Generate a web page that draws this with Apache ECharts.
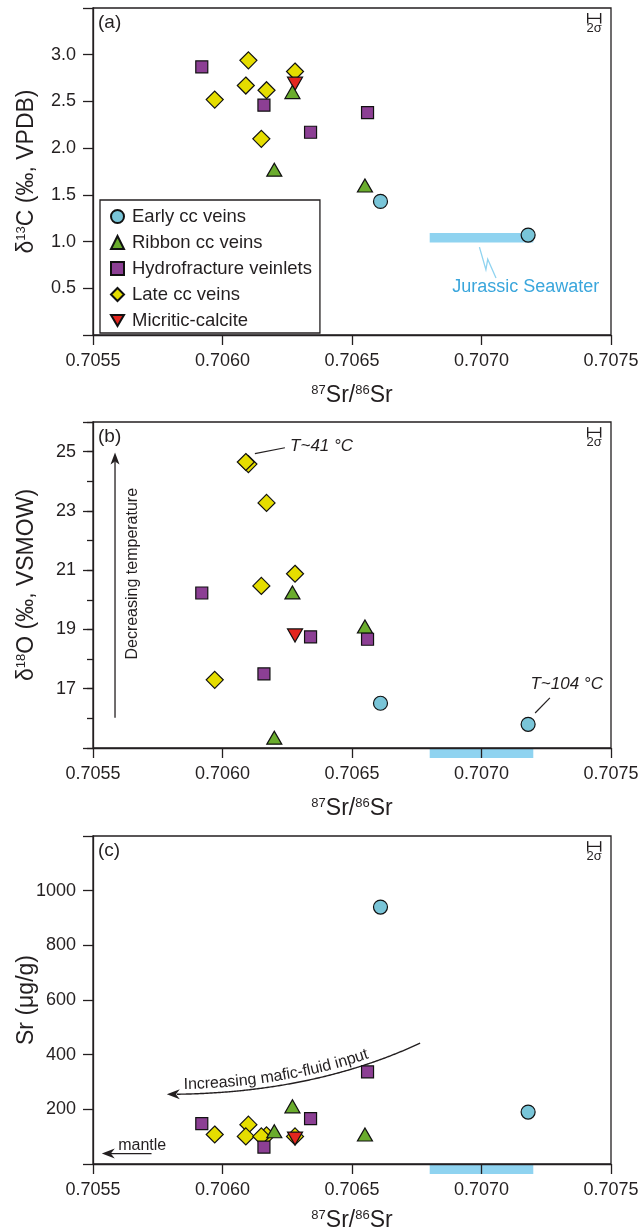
<!DOCTYPE html>
<html><head><meta charset="utf-8">
<script src="https://cdn.jsdelivr.net/npm/echarts@6/dist/echarts.min.js"></script>
<style>html,body{margin:0;padding:0;background:#fff}#c{width:643px;height:1230px}</style>
</head><body><div id="c"></div>
<script>
// ---------------- DATA ----------------
const seriesNames = ['Early cc veins', 'Ribbon cc veins', 'Hydrofracture veinlets', 'Late cc veins', 'Micritic-calcite'];
const xTickValues = [0.7055, 0.7060, 0.7065, 0.7070, 0.7075];

// Early cc veins
const earlySr87 = [0.70661, 0.70718];
const earlyD13C = [1.43, 1.07];
const earlyD18O = [16.51, 15.80];
const earlySrConc = [940, 190];

// Ribbon cc veins
const ribbonSr87 = [0.70627, 0.70620, 0.70655];
const ribbonD13C = [2.60, 1.77, 1.60];
const ribbonD18O = [20.25, 15.35, 19.10];
const ribbonSrConc = [211, 120, 108];

// Hydrofracture veinlets
const hydroSr87 = [0.70592, 0.70616, 0.70656, 0.70634];
const hydroD13C = [2.87, 2.46, 2.38, 2.17];
const hydroD18O = [20.23, 17.50, 18.67, 18.75];
const hydroSrConc = [148, 62, 337, 166];

// Late cc veins
const lateSr87 = [0.70610, 0.70609, 0.70617, 0.70628, 0.70597, 0.70615];
const lateD13C = [2.94, 2.67, 2.62, 2.82, 2.52, 2.10];
const lateD18O = [24.58, 24.65, 23.27, 20.88, 17.30, 20.47];
const lateSrConc = [144, 101, 105, 101, 108, 101];

// Micritic-calcite
const micriticSr87 = [0.70628];
const micriticD13C = [2.69];
const micriticD18O = [18.80];
const micriticSrConc = [93];

// Jurassic seawater range
const seawaterSr87 = [0.7068, 0.7072];
const seawaterD13C = 1.04;

// 2 sigma error bar (87Sr/86Sr)
const sigmaSr87 = [0.70741, 0.70746];

// axis ranges
const xRange = [0.7055, 0.7075];
const yRangeC13 = [0, 3.5];
const yRangeO18 = [15, 26];
const yRangeSr = [0, 1200];

// ---------------- STYLE ----------------
const FONT = '"Liberation Sans", Arial, Helvetica, sans-serif';
const INK = '#231f20';
const SEA = '#8fd3f0';
const SEA_TEXT = '#3aa6dc';
const S = 1e4; // x scale factor to keep ticks exact

const gridTops = [8, 422, 836];
const gridHeights = [327, 326, 328];
const xNameGaps = [49, 49, 45];

const grids = gridTops.map((t, i) => ({
  left: 93, width: 518, top: t, height: gridHeights[i],
  outerBoundsMode: 'none', containLabel: false,
  show: true, borderColor: INK, borderWidth: 1.3, backgroundColor: 'transparent'
}));

const nameRich = {
  b: { fontSize: 23, fontFamily: FONT, color: INK, lineHeight: 24 },
  sup: { fontSize: 13, fontFamily: FONT, color: INK, lineHeight: 13, verticalAlign: 'top' }
};

function makeX(i) {
  return {
    gridIndex: i, type: 'value', min: xRange[0] * S, max: xRange[1] * S, interval: 5,
    axisLine: { onZero: false, lineStyle: { color: INK, width: 1.3 } },
    axisTick: { inside: false, length: 10, lineStyle: { color: INK, width: 1.3 } },
    axisLabel: { fontSize: 18, color: INK, fontFamily: FONT, margin: 17, showMinLabel: true, showMaxLabel: true,
      formatter: v => (v / S).toFixed(4) },
    splitLine: { show: false },
    name: '{sup|87}{b|Sr/}{sup|86}{b|Sr}', nameLocation: 'middle', nameGap: xNameGaps[i], nameMoveOverlap: false,
    nameTextStyle: { rich: nameRich }
  };
}
function baseY(i, min, max, interval, fmt, name, tickLen) {
  return {
    gridIndex: i, type: 'value', position: 'left', min, max, interval,
    axisLine: { onZero: false, lineStyle: { color: INK, width: 1.3 } },
    axisTick: { inside: false, length: tickLen, lineStyle: { color: INK, width: 1.3 } },
    axisLabel: { fontSize: 18, color: INK, fontFamily: FONT, margin: 17, formatter: fmt },
    splitLine: { show: false },
    name, nameLocation: 'middle', nameGap: 54, nameRotate: 90, nameMoveOverlap: false,
    nameTextStyle: { rich: nameRich }
  };
}
const yAxes = [
  baseY(0, yRangeC13[0], yRangeC13[1], 0.5, v => (v <= yRangeC13[0] || v >= yRangeC13[1]) ? '' : v.toFixed(1),
    '{b|δ}{sup|13}{b|C (‰, VPDB)}', 10),
  baseY(1, yRangeO18[0], yRangeO18[1], 1, v => (v % 2 === 1 && v >= 17 && v <= 25) ? String(v) : '',
    '{b|δ}{sup|18}{b|O (‰, VSMOW)}', 6),
  baseY(2, yRangeSr[0], yRangeSr[1], 200, v => (v <= yRangeSr[0] || v >= yRangeSr[1]) ? '' : String(v),
    '{b|Sr (μg/g)}', 10),
  // overlay axis for the longer labelled ticks of panel (b) (offset so ticks fall on odd values)
  { gridIndex: 1, type: 'value', position: 'left', offset: 0, min: 0, max: yRangeO18[1] - yRangeO18[0], interval: 2,
    axisLine: { show: false, onZero: false }, axisLabel: { show: false }, splitLine: { show: false },
    axisTick: { inside: false, length: 10, lineStyle: { color: INK, width: 1.3 } } }
];

const groups = [
  { name: 'Late cc veins', x: lateSr87, vals: [lateD13C, lateD18O, lateSrConc], symbol: 'diamond', size: 17, color: '#e5dd00' },
  { name: 'Micritic-calcite', x: micriticSr87, vals: [micriticD13C, micriticD18O, micriticSrConc], symbol: 'path://M0,0L20,0L10,17Z', size: [15, 13], color: '#e4261f' },
  { name: 'Ribbon cc veins', x: ribbonSr87, vals: [ribbonD13C, ribbonD18O, ribbonSrConc], symbol: 'triangle', size: [15, 13], color: '#6aac2d' },
  { name: 'Hydrofracture veinlets', x: hydroSr87, vals: [hydroD13C, hydroD18O, hydroSrConc], symbol: 'rect', size: 12, color: '#8c3f94' },
  { name: 'Early cc veins', x: earlySr87, vals: [earlyD13C, earlyD18O, earlySrConc], symbol: 'circle', size: 14, color: '#79c5d8' }
];

const series = [];
// Jurassic seawater ranges
const ppuO18 = gridHeights[1] / (yRangeO18[1] - yRangeO18[0]);
const ppuSr = gridHeights[2] / (yRangeSr[1] - yRangeSr[0]);
const seaY = [seawaterD13C, yRangeO18[0] - 5 / ppuO18, yRangeSr[0] - 5 / ppuSr];
[0, 1, 2].forEach(p => {
  series.push({
    type: 'line', xAxisIndex: p, yAxisIndex: p, silent: true, symbol: 'none', clip: false, z: p === 0 ? 1 : -1,
    data: seawaterSr87.map(x => [x * S, seaY[p]]),
    lineStyle: { color: SEA, width: p === 0 ? 9.5 : 10, cap: 'butt' }
  });
});
// scatter groups
[0, 1, 2].forEach(p => {
  groups.forEach(g => {
    series.push({
      type: 'scatter', name: g.name, xAxisIndex: p, yAxisIndex: p,
      data: g.x.map((x, k) => [x * S, g.vals[p][k]]),
      symbol: g.symbol, symbolSize: g.size,
      itemStyle: { color: g.color, borderColor: '#111', borderWidth: 1.2, opacity: 1 },
      emphasis: { disabled: true }, z: 3
    });
  });
});
// 2 sigma bars
const sigmaY = [3.39, 25.65, 1162];
[0, 1, 2].forEach(p => {
  series.push({
    type: 'line', xAxisIndex: p, yAxisIndex: p, silent: true, z: 4,
    data: sigmaSr87.map(x => [x * S, sigmaY[p]]),
    symbol: 'rect', symbolSize: [1.4, 10.5], itemStyle: { color: INK },
    lineStyle: { color: INK, width: 1.3 }
  });
});

const option = {
  animation: false,
  backgroundColor: '#fff',
  textStyle: { fontFamily: FONT },
  grid: grids,
  xAxis: [0, 1, 2].map(makeX),
  yAxis: yAxes,
  legend: {
    data: seriesNames, orient: 'vertical', left: 100, top: 200,
    itemWidth: 13, itemHeight: 13, itemGap: 7,
    padding: [7, 8, 3, 10], borderColor: INK, borderWidth: 1.3, backgroundColor: '#fff',
    textStyle: { fontSize: 18.5, lineHeight: 18, color: INK, fontFamily: FONT, padding: [0, 0, 0, 3] },
    selectedMode: false
  },
  series
};

const chart = echarts.init(document.getElementById('c'), null, { renderer: 'canvas' });
chart.setOption(option);

// ---------------- ANNOTATIONS (positioned in data coordinates) ----------------
const P = (gi, x, y) => chart.convertToPixel({ gridIndex: gi }, [x * S, y]);
const els = [];
const yMax = [yRangeC13[1], yRangeO18[1], yRangeSr[1]];
['(a)', '(b)', '(c)'].forEach((t, i) => {
  const tl = P(i, xRange[0], yMax[i]);
  els.push({ type: 'text', x: tl[0] + 5, y: tl[1] + 15, style: { text: t, font: '19px ' + FONT, fill: INK, verticalAlign: 'middle' } });
});
// 2 sigma labels
[0, 1, 2].forEach(p => {
  const c = P(p, (sigmaSr87[0] + sigmaSr87[1]) / 2, sigmaY[p]);
  els.push({ type: 'text', x: c[0], y: c[1] + 10, style: { text: '2σ', font: '13px ' + FONT, fill: INK, align: 'center', verticalAlign: 'middle' } });
});
function arrowHead(tip, dir, len, half, notch) {
  const [dx, dy] = dir; const nx = -dy, ny = dx;
  const bx = tip[0] - dx * len, by = tip[1] - dy * len;
  const mx = tip[0] - dx * notch, my = tip[1] - dy * notch;
  return { type: 'polygon', shape: { points: [tip, [bx + nx * half, by + ny * half], [mx, my], [bx - nx * half, by - ny * half]] }, style: { fill: INK } };
}
// Jurassic seawater label + zigzag leader
const zig = [[0.706992, 0.94], [0.707017, 0.70], [0.707024, 0.81], [0.707056, 0.61]].map(d => P(0, d[0], d[1]));
els.push({ type: 'polyline', shape: { points: zig }, style: { stroke: SEA, lineWidth: 1.3, fill: null } });
const jt = P(0, 0.707171, 0.51);
els.push({ type: 'text', x: jt[0], y: jt[1], style: { text: 'Jurassic Seawater', font: '18px ' + FONT, fill: SEA_TEXT, align: 'center', verticalAlign: 'middle' } });

// panel (b) temperature labels
const l41a = P(1, 0.706125, 24.93), l41b = P(1, 0.706241, 25.13);
els.push({ type: 'line', shape: { x1: l41a[0], y1: l41a[1], x2: l41b[0], y2: l41b[1] }, style: { stroke: INK, lineWidth: 1.2 } });
const t41 = P(1, 0.706261, 25.19);
els.push({ type: 'text', x: t41[0], y: t41[1], style: { text: 'T~41 °C', font: 'italic 17px ' + FONT, fill: INK, verticalAlign: 'middle' } });
const l104a = P(1, 0.707207, 16.18), l104b = P(1, 0.707264, 16.69);
els.push({ type: 'line', shape: { x1: l104a[0], y1: l104a[1], x2: l104b[0], y2: l104b[1] }, style: { stroke: INK, lineWidth: 1.2 } });
const t104 = P(1, 0.707329, 17.14);
els.push({ type: 'text', x: t104[0], y: t104[1], style: { text: 'T~104 °C', font: 'italic 17px ' + FONT, fill: INK, align: 'center', verticalAlign: 'middle' } });
// decreasing temperature arrow
const dtB = P(1, 0.705585, 16.02), dtT = P(1, 0.705585, 24.97);
els.push({ type: 'line', shape: { x1: dtB[0], y1: dtB[1], x2: dtT[0], y2: dtT[1] + 9 }, style: { stroke: INK, lineWidth: 1.3 } });
els.push(arrowHead(dtT, [0, -1], 12, 4.5, 9));
const dtx = P(1, 0.705651, 20.88);
els.push({ type: 'text', x: dtx[0], y: dtx[1], rotation: Math.PI / 2, style: { text: 'Decreasing temperature', font: '16px ' + FONT, fill: INK, align: 'center', verticalAlign: 'middle' } });

// panel (c) mantle arrow
const mR = P(2, 0.705726, 38), mL = P(2, 0.705534, 38);
els.push({ type: 'line', shape: { x1: mR[0], y1: mR[1], x2: mL[0] + 9, y2: mL[1] }, style: { stroke: INK, lineWidth: 1.3 } });
els.push(arrowHead(mL, [-1, 0], 13, 5, 9));
const mt = P(2, 0.70569, 67);
els.push({ type: 'text', x: mt[0], y: mt[1], style: { text: 'mantle', font: '16px ' + FONT, fill: INK, align: 'center', verticalAlign: 'middle' } });

// panel (c) curved arrow "Increasing mafic-fluid input"
const cTip = P(2, 0.705785, 255), cCtl = P(2, 0.706338, 255), cEnd = P(2, 0.706763, 442);
function bez(t) {
  const u = 1 - t;
  return [u * u * cTip[0] + 2 * t * u * cCtl[0] + t * t * cEnd[0], u * u * cTip[1] + 2 * t * u * cCtl[1] + t * t * cEnd[1]];
}
const pts = [];
for (let k = 0; k <= 200; k++) pts.push(bez(k / 200));
const lineStart = pts.findIndex(p => p[0] >= cTip[0] + 9);
els.push({ type: 'polyline', shape: { points: pts.slice(lineStart) }, style: { stroke: INK, lineWidth: 1.4, fill: null } });
els.push(arrowHead(cTip, [-1, 0], 13, 5, 9));
const cum = [0];
for (let k = 1; k < pts.length; k++) cum.push(cum[k - 1] + Math.hypot(pts[k][0] - pts[k - 1][0], pts[k][1] - pts[k - 1][1]));
function atLen(s) {
  let k = 1; while (k < cum.length - 1 && cum[k] < s) k++;
  const f = (s - cum[k - 1]) / (cum[k] - cum[k - 1] || 1);
  const x = pts[k - 1][0] + f * (pts[k][0] - pts[k - 1][0]);
  const y = pts[k - 1][1] + f * (pts[k][1] - pts[k - 1][1]);
  const dx = pts[k][0] - pts[k - 1][0], dy = pts[k][1] - pts[k - 1][1];
  const L = Math.hypot(dx, dy) || 1;
  return { x, y, ux: dx / L, uy: dy / L };
}
const curveText = 'Increasing mafic-fluid input';
const cfont = '16px ' + FONT;
const cv = document.createElement('canvas').getContext('2d');
cv.font = '16px "Liberation Sans", Arial, sans-serif';
let s = cum[pts.findIndex(p => p[0] >= cTip[0] + 16)];
for (const ch of curveText) {
  const w = cv.measureText(ch).width;
  const q = atLen(s + w / 2);
  const nx = q.uy, ny = -q.ux;
  const off = 9.5;
  els.push({ type: 'text', x: q.x + nx * off, y: q.y + ny * off, rotation: -Math.atan2(q.uy, q.ux),
    style: { text: ch, font: cfont, fill: INK, align: 'center', verticalAlign: 'middle' } });
  s += w;
}

chart.setOption({ graphic: els });
</script>
</body></html>
